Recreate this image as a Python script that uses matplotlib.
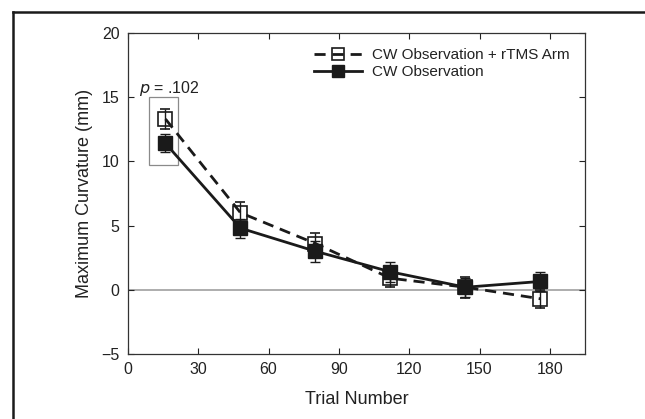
import matplotlib
matplotlib.use("Agg")
import matplotlib.pyplot as plt
from matplotlib.lines import Line2D
from matplotlib.patches import Rectangle

plt.rcParams['font.family'] = ['Liberation Sans', 'DejaVu Sans']

trials = [16, 48, 80, 112, 144, 176]
rtms_vals = [13.3, 6.0, 3.6, 0.9, 0.2, -0.7]
rtms_err = [0.8, 0.8, 0.8, 0.7, 0.8, 0.7]
obs_vals = [11.4, 4.8, 3.0, 1.4, 0.2, 0.65]
obs_err = [0.7, 0.75, 0.8, 0.8, 0.75, 0.75]
labels = ["CW Observation + rTMS Arm", "CW Observation"]
xticks = [0, 30, 60, 90, 120, 150, 180]
yticks = [-5, 0, 5, 10, 15, 20]

TXT = '#222222'
fig = plt.figure(figsize=(6.45, 4.19), dpi=100)
ax = fig.add_axes([128/645, 1-354/419, (585-128)/645, (354-33)/419])

ax.axhline(0, color='#a0a0a0', lw=1.2, zorder=1)

ax.errorbar(trials, rtms_vals, yerr=rtms_err, fmt='s', ls=(0, (4, 2.5)), color='#1a1a1a',
            lw=2.0, mfc='none', mec='#1a1a1a', mew=1.2, ms=9.5, capsize=3.5,
            elinewidth=1.0, capthick=1.0, zorder=3)
ax.errorbar(trials, obs_vals, yerr=obs_err, fmt='s', ls='-', color='#1a1a1a',
            lw=2.0, mfc='#1a1a1a', mec='#1a1a1a', mew=1.0, ms=9.5, capsize=3.5,
            elinewidth=1.0, capthick=1.0, zorder=4)

ax.add_patch(Rectangle((9.1, 9.7), 12.4, 5.3, fill=False, ec='#8a8a8a', lw=0.9, zorder=2))
ax.text(4.7, 15.3, r'$\it{p}$ = .102', fontsize=11.5, va='baseline', ha='left', color=TXT)

ax.set_xlim(0, 195)
ax.set_ylim(-5, 20)
ax.set_xticks(xticks)
ax.set_yticks(yticks)
ax.set_yticklabels(['\u22125' if v < 0 else str(v) for v in yticks])
ax.tick_params(direction='in', top=True, right=True, length=4, width=0.8,
               labelsize=11.5, colors=TXT, pad=6)
for s in ax.spines.values():
    s.set_linewidth(0.9)
    s.set_color('#333333')
ax.set_xlabel('Trial Number', fontsize=13, color=TXT, labelpad=10)
ax.set_ylabel('Maximum Curvature (mm)', fontsize=13, color=TXT, labelpad=6)

h1 = Line2D([], [], color='#1a1a1a', ls=(0, (4, 2.5)), lw=2.0, marker='s', mfc='none',
            mec='#1a1a1a', mew=1.2, ms=9)
h2 = Line2D([], [], color='#1a1a1a', ls='-', lw=2.0, marker='s', mfc='#1a1a1a',
            mec='#1a1a1a', ms=9)
ax.legend([h1, h2], labels, loc='upper right', frameon=False, fontsize=11,
          handlelength=3.15, handletextpad=0.65, labelspacing=0.2,
          bbox_to_anchor=(1.0, 1.0), borderaxespad=0.6, labelcolor=TXT)

fig.add_artist(Line2D([12.5/645, 12.5/645], [0, 1-12.5/419], transform=fig.transFigure,
                      color='#1a1a1a', lw=1.8))
fig.add_artist(Line2D([12.5/645, 1], [1-12.5/419, 1-12.5/419], transform=fig.transFigure,
                      color='#1a1a1a', lw=1.8))

fig.savefig('out.png', dpi=100)
